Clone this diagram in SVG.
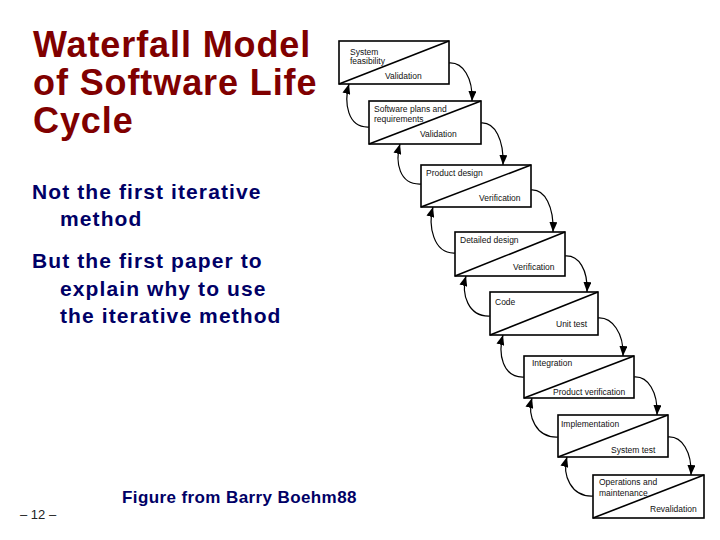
<svg xmlns="http://www.w3.org/2000/svg" width="720" height="540" viewBox="0 0 720 540">
<style>
.title{font-family:"Liberation Sans",Arial,sans-serif;font-weight:bold;font-size:36px;fill:#800000;letter-spacing:0.9px}
.body{font-family:"Liberation Sans",Arial,sans-serif;font-weight:bold;font-size:21px;fill:#000066;letter-spacing:1.1px}
.cap{font-family:"Liberation Sans",Arial,sans-serif;font-weight:bold;font-size:17px;fill:#000066;letter-spacing:0.4px}
.pg{font-family:"Liberation Sans",Arial,sans-serif;font-size:13px;fill:#222}
.box{fill:#fff;stroke:#000;stroke-width:1.6}
.diag{stroke:#000;stroke-width:1.6}
.lbl{font-family:"Liberation Sans",Arial,sans-serif;font-size:8.5px;fill:#111}
.arr{fill:none;stroke:#000;stroke-width:1.2;marker-end:url(#ah)}
</style>
<defs>
<marker id="ah" markerUnits="userSpaceOnUse" markerWidth="10" markerHeight="8" refX="10" refY="4" orient="auto">
<path d="M0,0 L10,4 L0,8 z" fill="#000"/>
</marker>
</defs>
<rect width="720" height="540" fill="#fff"/>
<g id="title">
<text class="title" x="33" y="57">Waterfall Model</text>
<text class="title" x="33" y="95">of Software Life</text>
<text class="title" x="33" y="133">Cycle</text>
</g>
<g id="bullets">
<text class="body" x="32" y="199">Not the first iterative</text>
<text class="body" x="60" y="226">method</text>
<text class="body" x="32" y="268">But the first paper to</text>
<text class="body" x="60" y="296">explain why to use</text>
<text class="body" x="60" y="323">the iterative method</text>
</g>
<text class="cap" x="122" y="503">Figure from Barry Boehm88</text>
<text class="pg" x="20" y="519">– 12 –</text>

<g id="connectors">
<path class="arr" d="M449,63 C463,62 473,78 472,101"/>
<path class="arr" d="M481,123 C495,122 504,140 503,165"/>
<path class="arr" d="M531,190 C545,189 554,207 553,232"/>
<path class="arr" d="M565,256 C579,255 588,270 587,292"/>
<path class="arr" d="M598,318 C612,317 624,333 623,356"/>
<path class="arr" d="M634,377 C648,376 658,392 657,415"/>
<path class="arr" d="M668,437 C682,436 692,452 691,475"/>
<path class="arr" d="M369,127 C347,128 344,102 349,84"/>
<path class="arr" d="M421,184 C399,185 395,162 400,144"/>
<path class="arr" d="M455,253 C433,254 428,225 433,207"/>
<path class="arr" d="M490,316 C468,317 461,294 466,276"/>
<path class="arr" d="M524,377 C502,378 498,353 503,335"/>
<path class="arr" d="M558,437 C536,438 527,416 532,398"/>
<path class="arr" d="M593,496 C571,497 562,475 567,457"/>
</g>

<g id="n1">
<rect class="box" x="339" y="41" width="110" height="43"/>
<line class="diag" x1="339" y1="84" x2="449" y2="41"/>
<text class="lbl" x="350" y="55">System</text>
<text class="lbl" x="350" y="64">feasibility</text>
<text class="lbl" x="385" y="79">Validation</text>
</g>
<g id="n2">
<rect class="box" x="369" y="101" width="112" height="43"/>
<line class="diag" x1="369" y1="144" x2="481" y2="101"/>
<text class="lbl" x="374" y="112">Software plans and</text>
<text class="lbl" x="374" y="122">requirements</text>
<text class="lbl" x="420" y="137">Validation</text>
</g>
<g id="n3">
<rect class="box" x="421" y="165" width="110" height="42"/>
<line class="diag" x1="421" y1="207" x2="531" y2="165"/>
<text class="lbl" x="426" y="176">Product design</text>
<text class="lbl" x="479" y="201">Verification</text>
</g>
<g id="n4">
<rect class="box" x="455" y="232" width="110" height="44"/>
<line class="diag" x1="455" y1="276" x2="565" y2="232"/>
<text class="lbl" x="460" y="243">Detailed design</text>
<text class="lbl" x="513" y="270">Verification</text>
</g>
<g id="n5">
<rect class="box" x="490" y="292" width="108" height="43"/>
<line class="diag" x1="490" y1="335" x2="598" y2="292"/>
<text class="lbl" x="495" y="305">Code</text>
<text class="lbl" x="556" y="327">Unit test</text>
</g>
<g id="n6">
<rect class="box" x="524" y="356" width="110" height="42"/>
<line class="diag" x1="524" y1="398" x2="634" y2="356"/>
<text class="lbl" x="532" y="366">Integration</text>
<text class="lbl" x="553" y="395">Product verification</text>
</g>
<g id="n7">
<rect class="box" x="558" y="415" width="110" height="42"/>
<line class="diag" x1="558" y1="457" x2="668" y2="415"/>
<text class="lbl" x="561" y="427">Implementation</text>
<text class="lbl" x="611" y="453">System test</text>
</g>
<g id="n8">
<rect class="box" x="593" y="475" width="111" height="43"/>
<line class="diag" x1="593" y1="518" x2="704" y2="475"/>
<text class="lbl" x="599" y="485">Operations and</text>
<text class="lbl" x="599" y="496">maintenance</text>
<text class="lbl" x="650" y="512">Revalidation</text>
</g>
</svg>
